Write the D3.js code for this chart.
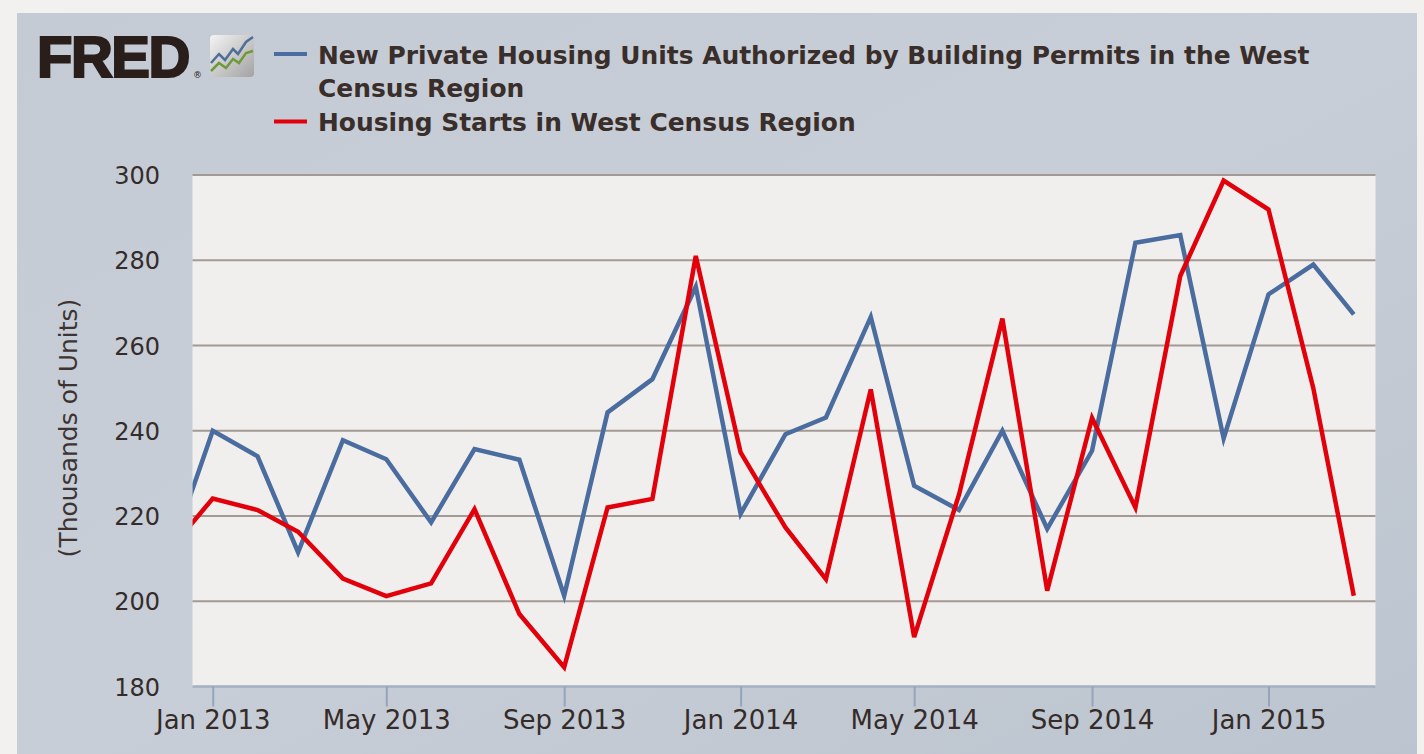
<!DOCTYPE html>
<html>
<head>
<meta charset="utf-8">
<script src="https://cdn.jsdelivr.net/npm/d3@7"></script>
<style>
  html, body { margin: 0; padding: 0; background: #f2f1ef; }
  svg { display: block; }
</style>
</head>
<body>
<div id="chart"></div>
<script>
// monthly values, Dec 2012 .. Mar 2015 (thousands of units, SAAR)
const months = ['2012-12', '2013-01', '2013-02', '2013-03', '2013-04', '2013-05', '2013-06',
  '2013-07', '2013-08', '2013-09', '2013-10', '2013-11', '2013-12', '2014-01', '2014-02',
  '2014-03', '2014-04', '2014-05', '2014-06', '2014-07', '2014-08', '2014-09', '2014-10',
  '2014-11', '2014-12', '2015-01', '2015-02', '2015-03'];

const permits = [209.7, 240, 234, 211.5, 237.8, 233.3, 218.5, 235.7, 233.2, 201.3, 244.3, 252.1,
  273.8, 220.5, 239.2, 243.1, 266.7, 227.1, 221.4, 240, 217, 235.3, 284.1, 285.9, 238.2, 272, 279, 267.3];

const starts = [211.6, 224.1, 221.4, 216.3, 205.3, 201.2, 204.2, 221.6, 197, 184.5, 222, 224,
  281, 234.9, 217.3, 205.2, 249.7, 191.6, 225, 266.3, 202.5, 243, 222, 276.3, 298.7, 291.9, 250, 201.3];

const seriesNames = [
  ['New Private Housing Units Authorized by Building Permits in the West', 'Census Region'],
  ['Housing Starts in West Census Region']
];
const seriesColors = ['#4a6c9e', '#e2000b'];

const xTicks = ['2013-01', '2013-05', '2013-09', '2014-01', '2014-05', '2014-09', '2015-01'];
const yTicks = [180, 200, 220, 240, 260, 280, 300];
const yLabel = '(Thousands of Units)';

const W = 1424, H = 754;
const plot = { left: 192.5, right: 1375.5, top: 175, bottom: 686.5 };
const parse = d3.utcParse('%Y-%m');

const svg = d3.select('#chart').append('svg')
  .attr('width', W)
  .attr('height', H);

const defs = svg.append('defs');

let panelGrad = defs.append('linearGradient')
  .attr('id', 'panelGrad')
  .attr('x1', 0).attr('y1', 0).attr('x2', 1).attr('y2', 1);
panelGrad.append('stop').attr('offset', '0%').attr('stop-color', '#c4cbd5');
panelGrad.append('stop').attr('offset', '50%').attr('stop-color', '#c7ced7');
panelGrad.append('stop').attr('offset', '100%').attr('stop-color', '#bcc4cf');

let iconGrad = defs.append('linearGradient')
  .attr('id', 'iconGrad')
  .attr('x1', 0).attr('y1', 0).attr('x2', 1).attr('y2', 1);
iconGrad.append('stop').attr('offset', '0%').attr('stop-color', '#f4f4f4');
iconGrad.append('stop').attr('offset', '100%').attr('stop-color', '#a2a2a2');

defs.append('clipPath')
  .attr('id', 'plotClip')
  .append('rect')
  .attr('x', plot.left)
  .attr('y', plot.top - 4)
  .attr('width', plot.right - plot.left)
  .attr('height', plot.bottom - plot.top + 4);

// grey-blue panel
svg.append('rect')
  .attr('x', 17).attr('y', 13)
  .attr('width', 1417 - 17).attr('height', H - 13)
  .attr('fill', 'url(#panelGrad)');

// plot background
svg.append('rect')
  .attr('x', plot.left).attr('y', plot.top)
  .attr('width', plot.right - plot.left)
  .attr('height', plot.bottom - plot.top)
  .attr('fill', '#f0efed');

let xScale = d3.scaleUtc()
  .domain([Date.UTC(2012, 11, 18), Date.UTC(2015, 2, 16)])
  .range([plot.left, plot.right]);

let yScale = d3.scaleLinear()
  .domain([180, 300])
  .range([plot.bottom, plot.top]);

// y labels
let yAxis = d3.axisLeft(yScale)
  .tickValues(yTicks)
  .tickSize(0)
  .tickPadding(0)
  .tickFormat(d3.format('d'));

let gy = svg.append('g')
  .attr('transform', `translate(${plot.left}, 0)`)
  .call(yAxis);
gy.select('.domain').remove();
gy.selectAll('.tick text')
  .attr('x', 160 - plot.left)
  .attr('dy', '0.36em')
  .style('font-family', '"DejaVu Sans", Verdana, sans-serif')
  .style('font-size', '24px')
  .style('fill', '#352c2a');

// horizontal grid
svg.append('g')
  .selectAll('line')
  .data(yTicks.filter(d => d > 180))
  .join('line')
  .attr('x1', plot.left)
  .attr('x2', plot.right)
  .attr('y1', d => yScale(d))
  .attr('y2', d => yScale(d))
  .attr('stroke', '#a39a95')
  .attr('stroke-width', 2);

// x axis
let xAxis = d3.axisBottom(xScale)
  .tickValues(xTicks.map(parse))
  .tickSize(20)
  .tickPadding(6)
  .tickFormat(d3.utcFormat('%b %Y'));

let gx = svg.append('g')
  .attr('transform', `translate(0, ${plot.bottom})`)
  .call(xAxis);
gx.select('.domain')
  .attr('d', `M${plot.left},0H${plot.right}`)
  .attr('stroke', '#a4afc3')
  .attr('stroke-width', 2.5);
gx.selectAll('.tick line')
  .attr('stroke', '#95a3bb')
  .attr('stroke-width', 2);
gx.selectAll('.tick text')
  .attr('y', 42)
  .attr('dy', 0)
  .style('font-family', '"DejaVu Sans", Verdana, sans-serif')
  .style('font-size', '26px')
  .style('fill', '#352c2a');

// y axis title
svg.append('text')
  .attr('transform', 'translate(77, 428) rotate(-90)')
  .attr('text-anchor', 'middle')
  .style('font-family', '"DejaVu Sans", Verdana, sans-serif')
  .style('font-size', '25px')
  .style('fill', '#3d3432')
  .text(yLabel);

// series lines
const seriesValues = [permits, starts];
let line = d3.line()
  .x((d, i) => xScale(parse(months[i])))
  .y(d => yScale(d));

svg.append('g')
  .attr('clip-path', 'url(#plotClip)')
  .selectAll('path')
  .data(seriesValues)
  .join('path')
  .attr('d', d => line(d))
  .attr('fill', 'none')
  .attr('stroke', (d, i) => seriesColors[i])
  .attr('stroke-width', 4.5)
  .attr('stroke-linejoin', 'miter');

// FRED logo
let logo = svg.append('g');
logo.append('text')
  .attr('x', 37)
  .attr('y', 77)
  .style('font-family', '"Liberation Sans", Arial, sans-serif')
  .style('font-weight', 'bold')
  .style('font-size', '58px')
  .style('letter-spacing', '-1.5px')
  .style('fill', '#2a1e1b')
  .style('stroke', '#2a1e1b')
  .style('stroke-width', 2.2)
  .text('FRED');
logo.append('text')
  .attr('x', 193)
  .attr('y', 78)
  .style('font-family', '"DejaVu Sans", sans-serif')
  .style('font-size', '9px')
  .style('fill', '#2a1e1b')
  .text('®');
logo.append('rect')
  .attr('x', 210).attr('y', 35)
  .attr('width', 44).attr('height', 42)
  .attr('rx', 4)
  .attr('fill', 'url(#iconGrad)');
logo.append('path')
  .attr('d', 'M211,63 L219,54 L225,60 L233,49 L238,54 L246,42 L253,37')
  .attr('fill', 'none')
  .attr('stroke', '#4f6f98')
  .attr('stroke-width', 2.5);
logo.append('path')
  .attr('d', 'M211,71 L219,63 L226,68 L233,59 L239,63 L246,53 L253,51')
  .attr('fill', 'none')
  .attr('stroke', '#6f9a3c')
  .attr('stroke-width', 2.5);

// legend
const legendTextWidth = 992;
let legend = svg.append('g');
let lineRows = [[0, 0], [0, 1], [1, 0]];
let baselines = [64, 97, 131];

let texts = legend.selectAll('text')
  .data(lineRows)
  .join('text')
  .attr('x', 318)
  .attr('y', (d, i) => baselines[i])
  .style('font-family', '"DejaVu Sans", Verdana, sans-serif')
  .style('font-weight', 'bold')
  .style('font-size', '24px')
  .style('fill', '#3a2e2b')
  .text(d => seriesNames[d[0]][d[1]]);

// fit font size to the reference width of the first legend line
let firstLen = texts.node().getComputedTextLength();
let fitted = 24 * legendTextWidth / firstLen;
texts.style('font-size', `${fitted}px`);

legend.selectAll('line')
  .data(seriesColors)
  .join('line')
  .attr('x1', 274)
  .attr('x2', 307)
  .attr('y1', (d, i) => i === 0 ? 54 : 121.5)
  .attr('y2', (d, i) => i === 0 ? 54 : 121.5)
  .attr('stroke', d => d)
  .attr('stroke-width', 4);
</script>
</body>
</html>
